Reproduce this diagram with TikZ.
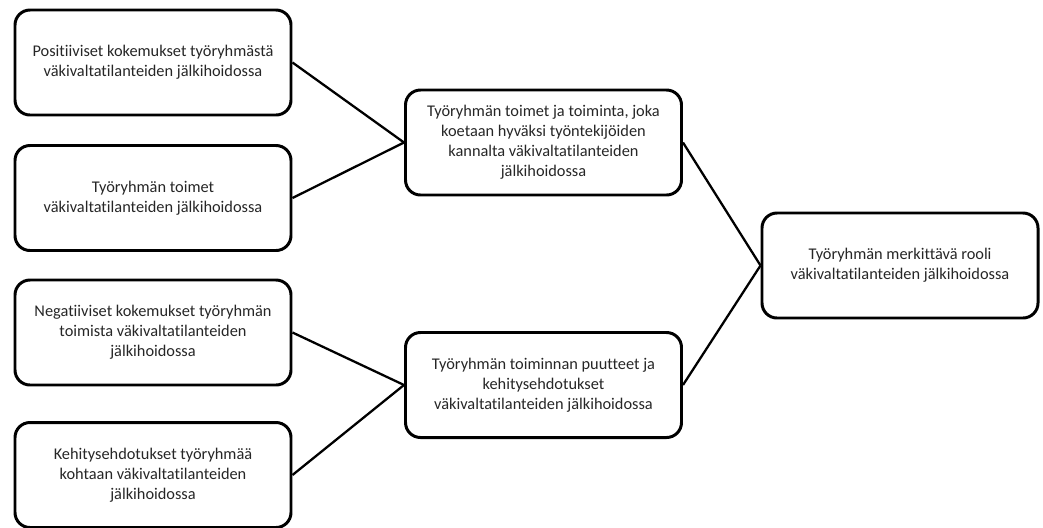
\documentclass[tikz,border=0pt]{standalone}
\usepackage{fontspec}
\setmainfont[Ligatures=NoCommon]{Carlito}
\begin{document}
\begin{tikzpicture}[
    box/.style={draw,line width=1.7pt,rounded corners=0.3cm,align=center,
        minimum width=5.52cm,minimum height=2.1cm,text=black!85,
        font=\fontsize{9.3}{11.4}\selectfont},
    conn/.style={line width=1.3pt}]
    \useasboundingbox (0,0) rectangle (20.86,-10.56);
    %% left column
    \node[box] (pos) at (3.06,-1.25) {Positiiviset kokemukset työryhmästä\\väkivaltatilanteiden jälkihoidossa};
    \node[box] (toimet) at (3.06,-3.96) {Työryhmän toimet\\väkivaltatilanteiden jälkihoidossa};
    \node[box] (neg) at (3.06,-6.65) {Negatiiviset kokemukset työryhmän\\toimista väkivaltatilanteiden\\jälkihoidossa};
    \node[box] (kehit) at (3.06,-9.5) {Kehitysehdotukset työryhmää\\kohtaan väkivaltatilanteiden\\jälkihoidossa};
    %% middle column
    \node[box] (hyva) at (10.87,-2.85) {Työryhmän toimet ja toiminta, joka\\koetaan hyväksi työntekijöiden\\kannalta väkivaltatilanteiden\\jälkihoidossa};
    \node[box] (puute) at (10.87,-7.7) {Työryhmän toiminnan puutteet ja\\kehitysehdotukset\\väkivaltatilanteiden jälkihoidossa};
    %% right
    \node[box] (rooli) at (18.0,-5.31) {Työryhmän merkittävä rooli\\väkivaltatilanteiden jälkihoidossa};
    %% connectors
    \draw[conn] (pos.east) -- (hyva.west);
    \draw[conn] (toimet.east) -- (hyva.west);
    \draw[conn] (neg.east) -- (puute.west);
    \draw[conn] (kehit.east) -- (puute.west);
    \draw[conn] (hyva.east) -- (rooli.west);
    \draw[conn] (puute.east) -- (rooli.west);
\end{tikzpicture}
\end{document}
